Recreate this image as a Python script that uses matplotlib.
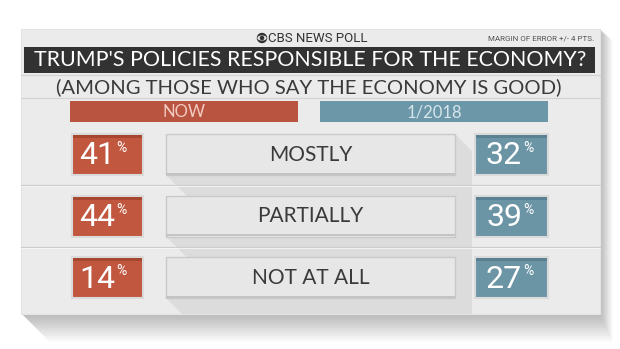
import numpy as np
import matplotlib.pyplot as plt
from matplotlib.patches import Rectangle, Polygon, Circle, Ellipse

# ------------------------------------------------------------
# Data
# ------------------------------------------------------------
categories = ["MOSTLY", "PARTIALLY", "NOT AT ALL"]
now_vals = [41, 44, 14]
jan_vals = [32, 39, 27]
series_labels = ["NOW", "1/2018"]

title = "TRUMP'S POLICIES RESPONSIBLE FOR THE ECONOMY?"
subtitle = "(AMONG THOSE WHO SAY THE ECONOMY IS GOOD)"
source = "CBS NEWS POLL"
margin_note = "MARGIN OF ERROR +/- 4 PTS."

# colours
CARD = "#ebebeb"
RED = "#c1573f"
BLUE = "#6b95a5"
DARK = "#323232"
TEXT = "#3a3a3a"
FONT = "Lato"


def main():
    fig = plt.figure(figsize=(6.2, 3.49), dpi=100)
    fig.patch.set_facecolor("white")
    ax = fig.add_axes([0, 0, 1, 1])
    ax.set_xlim(0, 620)
    ax.set_ylim(349, 0)
    ax.axis("off")

    # soft outer shadow of the card
    for d in np.arange(2, 30, 2):
        ax.add_patch(Polygon([(22, 314), (22 + d, 314 + d), (600 + d * 0.45, 314 + d),
                              (600 + d * 0.45, 32 + d * 0.3), (600, 29)],
                             closed=True, facecolor="black", alpha=0.018, lw=0))

    # card
    card = Rectangle((21, 29), 579, 285, facecolor=CARD, edgecolor="#e4e4e4", lw=0.8)
    ax.add_patch(card)

    # header line
    ax.add_patch(Circle((262, 38), 5.2, facecolor=DARK, lw=0))
    ax.add_patch(Ellipse((262, 38), 9.2, 5.2, facecolor=CARD, lw=0))
    ax.add_patch(Circle((262, 38), 2.3, facecolor=DARK, lw=0))
    ax.text(268, 38.5, source, family="Roboto", fontsize=9.5, color=DARK,
            ha="left", va="center")
    ax.text(594, 38.5, margin_note, family="Roboto", fontsize=5.8, color="#555555",
            ha="right", va="center")

    # title bar
    ax.add_patch(Rectangle((24, 47), 571, 26, facecolor=DARK, lw=0))
    ax.text(310, 60.5, title, family=FONT, fontsize=15.4, color="white",
            ha="center", va="center")
    ax.plot([21, 600], [75, 75], color="#d2d2d2", lw=0.8)

    # subtitle
    ax.text(309, 87, subtitle, family=FONT, fontsize=14.6, color=TEXT,
            ha="center", va="center")
    ax.plot([21, 600], [97.5, 97.5], color="#d2d2d2", lw=0.8)

    # column headers
    ax.add_patch(Rectangle((70, 101), 228, 21, facecolor="#b95440", lw=0))
    ax.add_patch(Rectangle((320, 101), 228, 21, facecolor="#6c97a8", lw=0))
    ax.text(184, 112, series_labels[0], family=FONT, fontsize=12, color="#f2cbc2",
            ha="center", va="center")
    ax.text(434, 112, series_labels[1], family=FONT, fontsize=12, color="#d5e5eb",
            ha="center", va="center")

    # rows
    pitch = 61.5
    box_h = 41
    mid_x0, mid_x1 = 166, 455
    edge = 472
    L = 45

    # long shadows behind the middle boxes
    for i in range(len(categories)):
        y0 = 134 + i * pitch
        y1 = y0 + box_h
        sh = Polygon([(mid_x0, y1), (mid_x0 + L, y1 + L), (edge, y1 + L),
                      (edge, y0 + (edge - mid_x1)), (mid_x1, y0)],
                     closed=True, facecolor="#dcdcdc", lw=0)
        ax.add_patch(sh)
        sh.set_clip_path(card)

    # row separators
    for i in range(1, len(categories)):
        ys = 134 + i * pitch - 10.5
        ax.plot([21, 600], [ys, ys], color="#cdcdcd", lw=0.9)
        ax.plot([21, 600], [ys + 1, ys + 1], color="#f7f7f7", lw=0.6)

    for i, cat in enumerate(categories):
        y0 = 134 + i * pitch
        yc = y0 + box_h / 2

        # NOW value box
        ax.add_patch(Rectangle((72, y0), 71, box_h, facecolor=RED,
                               edgecolor="#dadada", lw=1.5))
        ax.add_patch(Rectangle((73, y0 + 1), 69, 3, facecolor="#a8472f", lw=0))
        ax.text(115, yc + 1.5, f"{now_vals[i]}", family="Roboto",
                fontsize=23, color="white", ha="right", va="center")
        ax.text(116.5, yc - 6.5, "%", family="Roboto", fontsize=10, color="white",
                ha="left", va="center")

        # middle label box
        ax.add_patch(Rectangle((mid_x0, y0), mid_x1 - mid_x0, box_h, facecolor="#e7e7e7",
                               edgecolor="#c9c9c9", lw=1.0))
        ax.plot([mid_x0 + 1, mid_x1 - 1], [y0 + box_h - 1.2, y0 + box_h - 1.2],
                color="#bdbdbd", lw=1.2)
        ax.text((mid_x0 + mid_x1) / 2, yc + 0.5, cat, family=FONT, fontsize=15,
                color=TEXT, ha="center", va="center")

        # 1/2018 value box
        ax.add_patch(Rectangle((475, y0), 73, box_h, facecolor=BLUE,
                               edgecolor="#dadada", lw=1.5))
        ax.add_patch(Rectangle((476, y0 + 1), 71, 3, facecolor="#5a8192", lw=0))
        ax.text(522, yc + 1.5, f"{jan_vals[i]}", family="Roboto",
                fontsize=23, color="white", ha="right", va="center")
        ax.text(523.5, yc - 6.5, "%", family="Roboto", fontsize=10, color="white",
                ha="left", va="center")

    fig.savefig("out.png", dpi=100, facecolor="white")
    plt.close(fig)


if __name__ == "__main__":
    main()
